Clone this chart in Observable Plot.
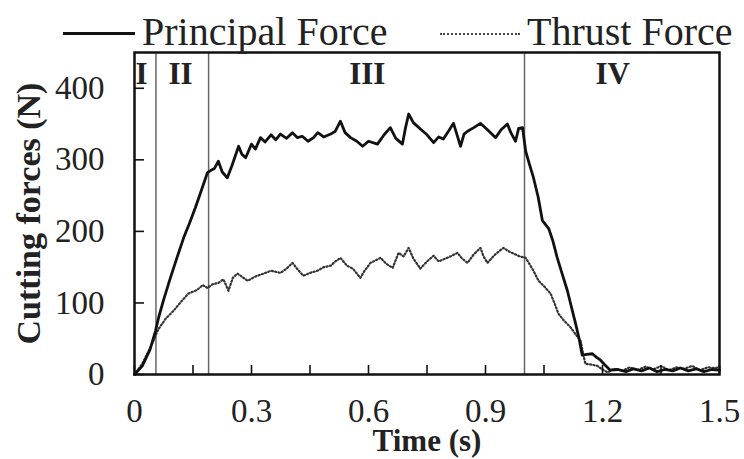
<!DOCTYPE html>
<html>
<head>
<meta charset="utf-8">
<script src="https://cdn.jsdelivr.net/npm/d3@7"></script>
<script src="https://cdn.jsdelivr.net/npm/@observablehq/plot@0.6"></script>
<style>
  html, body { margin: 0; padding: 0; background: #fff; }
  #wrap { position: relative; width: 744px; height: 459px; overflow: hidden; }
  #legend { position: absolute; left: 0; top: 0; width: 744px; height: 52px;
            font-family: "Liberation Serif", "Times New Roman", serif; font-size: 40px; line-height: 40px; color: #222; }
  #legend span { position: absolute; white-space: nowrap; }
</style>
</head>
<body>
<div id="wrap">
  <div id="chart"></div>
  <div id="legend">
    <span style="left:63px; top:32px; width:72px; border-top:3px solid #111;"></span>
    <span style="left:142px; top:12px;">Principal Force</span>
    <span style="left:440px; top:33px; width:80px; border-top:2px dotted #444;"></span>
    <span style="left:527px; top:12px;">Thrust Force</span>
  </div>
</div>
<script>
// ---- Data ----
const principalTime = [0,0.02,0.04,0.054,0.062,0.075,0.092,0.11,0.126,0.14,0.156,0.17,0.187,0.195,0.205,0.215,0.225,0.238,0.25,0.267,0.275,0.285,0.3,0.31,0.323,0.335,0.35,0.362,0.374,0.39,0.405,0.418,0.43,0.445,0.459,0.47,0.485,0.503,0.515,0.528,0.54,0.554,0.57,0.585,0.6,0.623,0.64,0.656,0.67,0.687,0.695,0.703,0.715,0.733,0.75,0.767,0.78,0.792,0.805,0.818,0.827,0.836,0.845,0.854,0.87,0.887,0.905,0.926,0.94,0.956,0.965,0.977,0.985,0.995,1.003,1.012,1.023,1.035,1.046,1.062,1.072,1.084,1.097,1.11,1.12,1.131,1.14,1.148,1.16,1.174,1.185,1.195,1.205,1.22,1.24,1.26,1.28,1.3,1.32,1.34,1.36,1.38,1.4,1.42,1.44,1.46,1.48,1.5];
const principalForce = [0,12,35,61,80,105,135,165,191,210,233,255,282,285,288,298,283,275,292,319,308,303,322,315,331,325,335,328,336,330,338,331,333,326,331,338,332,336,340,354,338,331,326,319,326,322,335,345,330,322,345,364,352,343,335,324,332,329,340,351,335,319,336,340,345,351,342,331,342,350,338,326,344,345,312,295,275,248,215,204,188,163,140,117,95,71,50,27,28,29,24,20,14,6,7,4,8,5,9,4,7,5,9,5,8,4,7,6];

const thrustTime = [0,0.02,0.041,0.062,0.08,0.1,0.12,0.138,0.16,0.175,0.187,0.2,0.215,0.228,0.241,0.252,0.264,0.277,0.29,0.31,0.331,0.35,0.374,0.39,0.405,0.418,0.433,0.45,0.469,0.485,0.503,0.515,0.528,0.545,0.56,0.579,0.59,0.605,0.62,0.631,0.645,0.662,0.677,0.69,0.703,0.715,0.733,0.75,0.767,0.78,0.797,0.81,0.828,0.84,0.854,0.87,0.887,0.895,0.905,0.925,0.946,0.96,0.972,0.988,1.003,1.012,1.023,1.036,1.049,1.067,1.078,1.087,1.1,1.118,1.13,1.144,1.15,1.156,1.17,1.187,1.2,1.213,1.23,1.25,1.27,1.29,1.31,1.33,1.35,1.37,1.39,1.41,1.43,1.45,1.47,1.49,1.5];
const thrustForce = [0,15,38,64,78,89,102,113,118,125,121,126,128,133,117,135,141,136,131,137,141,145,142,148,156,147,138,142,145,150,152,158,163,152,148,135,145,156,160,163,155,149,170,165,177,162,148,158,166,158,162,165,170,162,156,168,177,165,156,168,177,172,169,165,163,155,145,131,124,113,98,85,76,66,57,47,30,15,14,12,7,3,8,5,10,6,11,7,12,6,10,8,12,6,10,9,11];

const phaseBounds = [0.055, 0.19, 1.0];
const phaseNames = ["I", "II", "III", "IV"];
const phaseLabelTime = [0.018, 0.118, 0.597, 1.226];

const xTickLabels = [0, 0.3, 0.6, 0.9, 1.2, 1.5];
const xMinorTicks = [0, 0.15, 0.3, 0.45, 0.6, 0.75, 0.9, 1.05, 1.2, 1.35, 1.5];
const yTicks = [0, 100, 200, 300, 400];

const principal = principalTime.map((t, i) => ({t, f: principalForce[i]}));
const thrust = thrustTime.map((t, i) => ({t, f: thrustForce[i]}));
const phases = phaseNames.map((name, i) => ({name, t: phaseLabelTime[i]}));

const serif = "Liberation Serif, Times New Roman, serif";

const chart = Plot.plot({
  width: 744,
  height: 459,
  marginLeft: 134,
  marginRight: 25,
  marginTop: 52,
  marginBottom: 85,
  style: {fontFamily: serif, fontSize: "33px", color: "#222", background: "transparent", overflow: "visible"},
  x: {domain: [0, 1.5], axis: null},
  y: {domain: [0, 450], axis: null},
  marks: [
    Plot.ruleX(phaseBounds, {stroke: "#666", strokeWidth: 1.5}),
    Plot.line(thrust, {x: "t", y: "f", stroke: "#333", strokeWidth: 2.2, strokeDasharray: "1.2,2.3"}),
    Plot.line(principal, {x: "t", y: "f", stroke: "#111", strokeWidth: 2.8, strokeLinejoin: "round"}),
    // inward tick marks
    Plot.axisX({ticks: xMinorTicks, tickSize: 9, dy: -9, tickFormat: () => "", label: null, stroke: "#111", strokeWidth: 1.6}),
    Plot.axisY({ticks: yTicks, tickSize: 10, dx: 10, tickFormat: () => "", label: null, stroke: "#111", strokeWidth: 1.6}),
    // tick labels
    Plot.axisX({ticks: xTickLabels, tickSize: 0, tickPadding: 24, tickFormat: d => d === 0 ? "0" : d3.format(".1f")(d), label: null, fill: "#222"}),
    Plot.axisY({ticks: yTicks, tickSize: 0, tickPadding: 30, tickFormat: d => String(d), label: null, fill: "#222"}),
    Plot.frame({stroke: "#111", strokeWidth: 2.5}),
    // phase labels
    Plot.text(phases, {x: "t", text: "name", frameAnchor: "top", dy: 22, lineAnchor: "middle", fontWeight: "bold", fontSize: 31, fill: "#222"}),
    // axis titles
    Plot.text(["Cutting forces (N)"], {frameAnchor: "left", textAnchor: "middle", lineAnchor: "middle", rotate: -90, dx: -105, fontWeight: "bold", fontSize: 34, fill: "#222"}),
    Plot.text(["Time (s)"], {frameAnchor: "bottom", textAnchor: "middle", lineAnchor: "middle", dy: 67, fontWeight: "bold", fontSize: 31, fill: "#222"})
  ]
});
document.getElementById("chart").appendChild(chart);
</script>
</body>
</html>
